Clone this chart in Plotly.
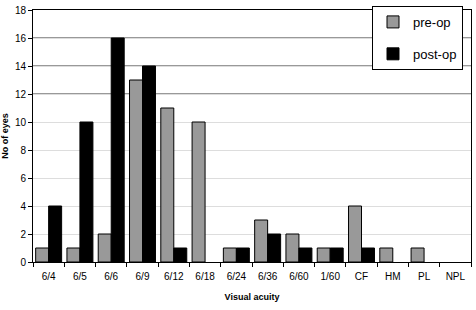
import plotly.graph_objects as go

categories = ["6/4", "6/5", "6/6", "6/9", "6/12", "6/18", "6/24", "6/36", "6/60", "1/60", "CF", "HM", "PL", "NPL"]
pre_op = [1, 1, 2, 13, 11, 10, 1, 3, 2, 1, 4, 1, 1, 0]
post_op = [4, 10, 16, 14, 1, 0, 1, 2, 1, 1, 1, 0, 0, 0]
y_ticks = [0, 2, 4, 6, 8, 10, 12, 14, 16, 18]

font = "Liberation Sans, Arial, sans-serif"


def outline_widths(vals):
    return [1 if v > 0 else 0 for v in vals]


fig = go.Figure()
fig.add_trace(go.Bar(x=categories, y=pre_op, name="pre-op", legendgroup="a",
                     marker=dict(color="#999999",
                                 line=dict(color="black", width=outline_widths(pre_op)))))
fig.add_trace(go.Bar(x=categories, y=post_op, name="post-op", legendgroup="b",
                     marker=dict(color="black",
                                 line=dict(color="black", width=outline_widths(post_op)))))

# darker gridlines near the top as in the reference
for v in [12, 14, 16]:
    fig.add_shape(type="line", xref="paper", x0=0, x1=1, yref="y", y0=v, y1=v,
                  line=dict(color="#333333", width=1), layer="below")

fig.update_layout(
    width=476, height=310,
    margin=dict(l=33, r=4, t=7, b=48),
    paper_bgcolor="white", plot_bgcolor="white",
    barmode="group", bargap=0.17, bargroupgap=0,
    font=dict(family=font, size=10, color="black"),
    showlegend=True,
    legend=dict(x=0.774, y=1.016, xanchor="left", yanchor="top",
                bgcolor="white", bordercolor="black", borderwidth=1,
                font=dict(size=13, family=font), tracegroupgap=12,
                traceorder="grouped"),
    xaxis=dict(type="category", tickson="boundaries", ticks="outside", ticklen=4,
               tickcolor="black", showline=True, linecolor="black", linewidth=1,
               mirror=True, showgrid=False, ticklabelstandoff=5,
               tickfont=dict(size=10),
               title=dict(text="<b>Visual acuity</b>", font=dict(size=9), standoff=12)),
    yaxis=dict(range=[0, 18], tickvals=y_ticks, ticks="outside", ticklen=4,
               tickcolor="black", showline=True, linecolor="black", linewidth=1,
               mirror=True, showgrid=True, gridcolor="#dddddd", zeroline=False,
               tickfont=dict(size=10),
               title=dict(text="<b>No of eyes</b>", font=dict(size=9), standoff=5)),
)

fig.write_html("out.html")
